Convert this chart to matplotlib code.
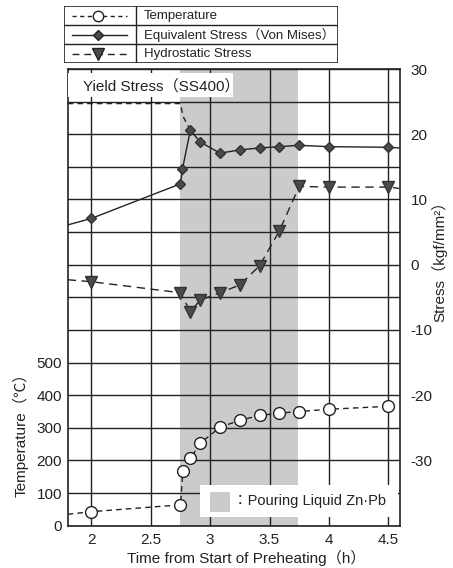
import numpy as np
import matplotlib
matplotlib.use('Agg')
import matplotlib.pyplot as plt
from matplotlib.patches import Rectangle
from matplotlib.lines import Line2D

plt.rcParams['font.family'] = ['Liberation Sans', 'Noto Sans CJK JP']
plt.rcParams['axes.unicode_minus'] = False

# temperature (deg C), first point is where the line enters the frame
temp_time = [1.8, 2.0, 2.75, 2.77, 2.833, 2.917, 3.083, 3.25, 3.417, 3.583, 3.75, 4.0, 4.5]
temp_vals = [35, 43, 64, 168, 206, 253, 302, 323, 338, 345, 350, 357, 366]

# equivalent stress (Von Mises), kgf/mm2
eq_time = [1.8, 2.0, 2.75, 2.767, 2.833, 2.917, 3.083, 3.25, 3.417, 3.583, 3.75, 4.0, 4.5, 4.59]
eq_vals = [6.1, 7.1, 12.4, 14.7, 20.6, 18.8, 17.1, 17.6, 17.9, 18.1, 18.3, 18.1, 18.0, 17.9]

# hydrostatic stress, kgf/mm2
hy_time = [1.8, 2.0, 2.75, 2.833, 2.917, 3.083, 3.25, 3.417, 3.583, 3.75, 4.0, 4.5, 4.59]
hy_vals = [-2.3, -2.6, -4.3, -7.2, -5.4, -4.3, -3.1, -0.15, 5.2, 12.0, 11.9, 11.9, 11.7]

# yield stress line (SS400)
ys_time = [1.8, 2.75, 2.77, 2.833]
ys_vals = [24.7, 24.7, 22.8, 20.6]

pour_start, pour_end = 2.75, 3.74
x_ticks = [2, 2.5, 3, 3.5, 4, 4.5]
x_labels = ['2', '2.5', '3', '3.5', '4', '4.5']
stress_labels = [-30, -20, -10, 0, 10, 20, 30]
temp_ticks = [0, 100, 200, 300, 400, 500]

W, H = 453, 568
ink = '#222222'
shade = '#cbcbcb'

fig = plt.figure(figsize=(W / 100, H / 100), dpi=100)
fig.patch.set_facecolor('white')

ax = fig.add_axes([67.7 / W, 1 - 525.7 / H, 331.8 / W, 456.7 / H])
axT = ax.twinx()

ax.set_xlim(1.8, 4.595)
ax.set_ylim(-40, 30)

ax.axvspan(pour_start, pour_end, color=shade, lw=0, zorder=1)

ax.set_xticks(x_ticks)
ax.set_xticklabels(x_labels)
ax.set_yticks(np.arange(-40, 31, 5))
ax.set_yticklabels([str(int(v)) if v in stress_labels else '' for v in np.arange(-40, 31, 5)])
ax.grid(True, color=ink, lw=1.0)
ax.tick_params(length=0, labelsize=11, colors=ink)
ax.tick_params(axis='x', pad=5)
ax.tick_params(axis='y', pad=8)
ax.yaxis.tick_right()
ax.yaxis.set_label_position('right')
for sp in ax.spines.values():
    sp.set_linewidth(1.2)
    sp.set_color(ink)

ax.plot(ys_time, ys_vals, color=ink, lw=1.0, ls=(0, (4, 3)), zorder=4)
ax.plot(eq_time, eq_vals, color=ink, lw=1.0, marker='D', ms=5, mfc='#4a4a4a', mec='#333333',
        markevery=slice(1, len(eq_time) - 1), zorder=5)
ax.plot(hy_time, hy_vals, color=ink, lw=1.0, ls=(0, (6, 4)), marker='v', ms=8, mfc='#4a4a4a',
        mec='#333333', markevery=slice(1, len(hy_time) - 1), zorder=5)

# yield stress label box
ax.add_patch(Rectangle((0, 0.9393), 0.498, 0.0513, transform=ax.transAxes, fc='white', ec='none', zorder=6))
ax.text(0.045, 0.9625, 'Yield Stress（SS400）', transform=ax.transAxes, fontsize=11, color=ink,
        va='center', ha='left', zorder=7)

# pouring legend box
ax.add_patch(Rectangle((0.399, 0.0197), 0.597, 0.0694, transform=ax.transAxes, fc='white', ec='none', zorder=6))
ax.add_patch(Rectangle((0.429, 0.0307), 0.0603, 0.0437, transform=ax.transAxes, fc=shade, ec='none', zorder=7))
ax.text(0.497, 0.054, '：Pouring Liquid Zn·Pb', transform=ax.transAxes, fontsize=10.5, color=ink,
        va='center', ha='left', zorder=7)

axT.set_ylim(0, 1400)
axT.set_yticks(temp_ticks)
axT.yaxis.tick_left()
axT.yaxis.set_label_position('left')
axT.tick_params(length=0, labelsize=11, colors=ink, pad=4)
for sp in axT.spines.values():
    sp.set_visible(False)
axT.plot(temp_time, temp_vals, color=ink, lw=1.0, ls=(0, (4, 3)), marker='o', ms=8.5, mfc='white',
         mec=ink, mew=1.0, markevery=slice(1, None), zorder=5)

fig.text(21 / W, 1 - 431 / H, 'Temperature（℃）', rotation=90, fontsize=11, color=ink,
         ha='center', va='center')
fig.text(439 / W, 1 - 258 / H, 'Stress（kgf/mm²）', rotation=90, fontsize=11, color=ink,
         ha='center', va='center')
fig.text(246 / W, 1 - 558 / H, 'Time from Start of Preheating（h）', fontsize=11, color=ink,
         ha='center', va='center')

# legend table at top, drawn in pixel units
leg = fig.add_axes([64.3 / W, 1 - 63.3 / H, 273.4 / W, 57.6 / H])
leg.set_xlim(64.3, 337.7)
leg.set_ylim(63.3, 5.7)
leg.axis('off')
leg.add_patch(Rectangle((64.3, 5.7), 273.4, 57.6, fc='white', ec=ink, lw=1.2))
leg.plot([136, 136], [5.7, 63.3], color=ink, lw=1.0)
leg.plot([64.3, 337.7], [25.5, 25.5], color=ink, lw=1.0)
leg.plot([64.3, 337.7], [44.5, 44.5], color=ink, lw=1.0)

rows = [
    ('Temperature', 15.8, dict(ls=(0, (3, 2.5)), marker='o', ms=7.5, mfc='white')),
    ('Equivalent Stress（Von Mises）', 35.2, dict(ls='-', marker='D', ms=5.5, mfc='#4a4a4a')),
    ('Hydrostatic Stress', 54.0, dict(ls=(0, (5, 3.5)), marker='v', ms=8, mfc='#4a4a4a')),
]
for label, yc, style in rows:
    leg.add_line(Line2D([72, 127], [yc, yc], color=ink, lw=1.0, ls=style['ls']))
    leg.plot([98.5], [yc], marker=style['marker'], ms=style['ms'], mfc=style['mfc'], mec=ink, mew=1.0)
    leg.text(143.5, yc, label, fontsize=9.5, color=ink, va='center', ha='left')

fig.savefig('out.png', dpi=100, facecolor='white')
